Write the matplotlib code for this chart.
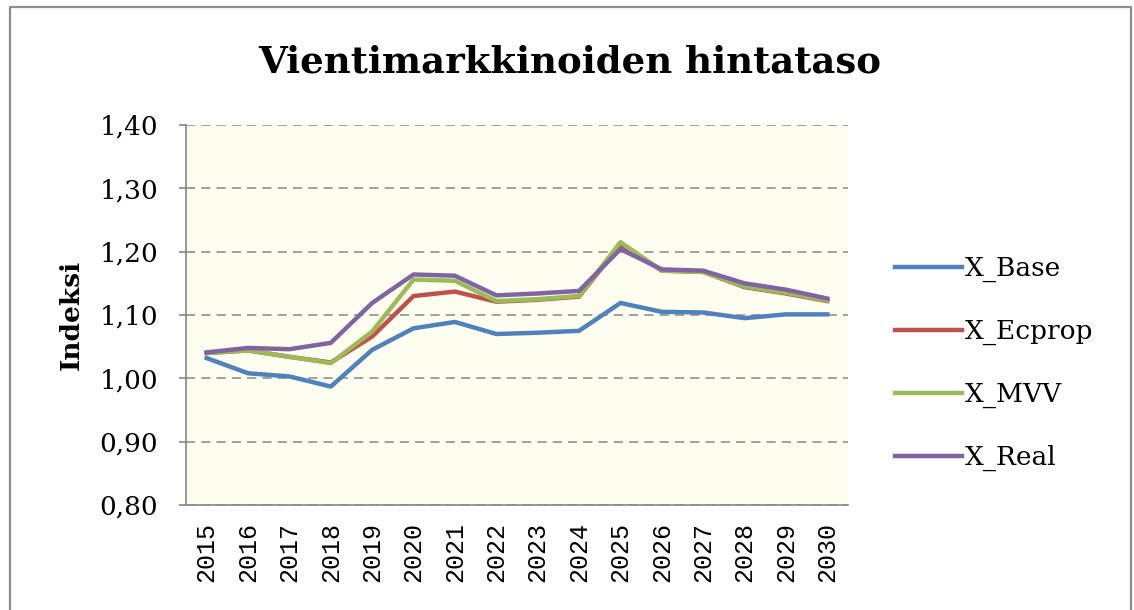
import matplotlib.pyplot as plt
from matplotlib.lines import Line2D

years = [str(y) for y in range(2015, 2031)]
x_base = [1.032, 1.008, 1.003, 0.987, 1.045, 1.079, 1.089, 1.070, 1.072, 1.075, 1.119, 1.105, 1.104, 1.095, 1.101, 1.101]
x_ecprop = [1.040, 1.044, 1.034, 1.025, 1.066, 1.130, 1.137, 1.121, 1.124, 1.129, 1.212, 1.170, 1.168, 1.144, 1.134, 1.122]
x_mvv = [1.040, 1.044, 1.034, 1.024, 1.074, 1.156, 1.154, 1.122, 1.125, 1.130, 1.215, 1.170, 1.168, 1.145, 1.135, 1.123]
x_real = [1.041, 1.048, 1.046, 1.056, 1.119, 1.164, 1.162, 1.131, 1.134, 1.138, 1.204, 1.172, 1.170, 1.150, 1.140, 1.126]
yticks = [0.80, 0.90, 1.00, 1.10, 1.20, 1.30, 1.40]

series = [("X_Base", x_base, "#4F81BD"),
          ("X_Ecprop", x_ecprop, "#C0504D"),
          ("X_MVV", x_mvv, "#9BBB59"),
          ("X_Real", x_real, "#8064A2")]

W, H = 1134, 610
fig = plt.figure(figsize=(W / 100, H / 100), dpi=100)
ax = fig.add_axes([186 / W, 1 - 505 / H, 662 / W, 380 / H])
ax.set_facecolor("#FEFEF0")

# chart frame (left, top, right edges; bottom is cut off in the source)
fx = [10 / W, 10 / W, 1131 / W, 1131 / W]
fy = [0, 1 - 7 / H, 1 - 7 / H, 0]
fig.lines.append(Line2D(fx, fy, transform=fig.transFigure, color="#8c8c8c", linewidth=1.6))

pos = range(len(years))
for name, vals, col in series:
    ax.plot(pos, vals, color=col, linewidth=3.2, label=name, solid_joinstyle="round")

ax.set_xlim(-0.5, len(years) - 0.5)
ax.set_ylim(0.80, 1.40)
ax.set_yticks(yticks)
ax.set_yticklabels([f"{v:.2f}".replace(".", ",") for v in yticks], fontfamily="DejaVu Serif", fontsize=19)
ax.set_xticks(list(pos))
ax.set_xticklabels(years, rotation=90, fontfamily="Liberation Mono", fontsize=18)
ax.tick_params(axis="y", length=5, width=1.2, color="#868686", pad=15)
ax.tick_params(axis="x", length=0, pad=12)

ax.grid(axis="y", color="#868686", linestyle=(0, (6, 4)), linewidth=1.1)
ax.set_axisbelow(True)
for s in ["top", "right"]:
    ax.spines[s].set_visible(False)
for s in ["left", "bottom"]:
    ax.spines[s].set_color("#868686")
    ax.spines[s].set_linewidth(1.2)

ax.set_ylabel("Indeksi", fontfamily="DejaVu Serif", fontweight="bold", fontsize=19, labelpad=11)
fig.text(0.502, 0.898, "Vientimarkkinoiden hintataso", ha="center", va="center",
         fontfamily="DejaVu Serif", fontweight="bold", fontsize=26.7)

ax.legend(loc="center left", bbox_to_anchor=(1.035, 0.372), frameon=False,
          prop={"family": "DejaVu Serif", "size": 19}, handlelength=2.55,
          handletextpad=0.1, labelspacing=1.4)

fig.savefig("out.png", dpi=100)
